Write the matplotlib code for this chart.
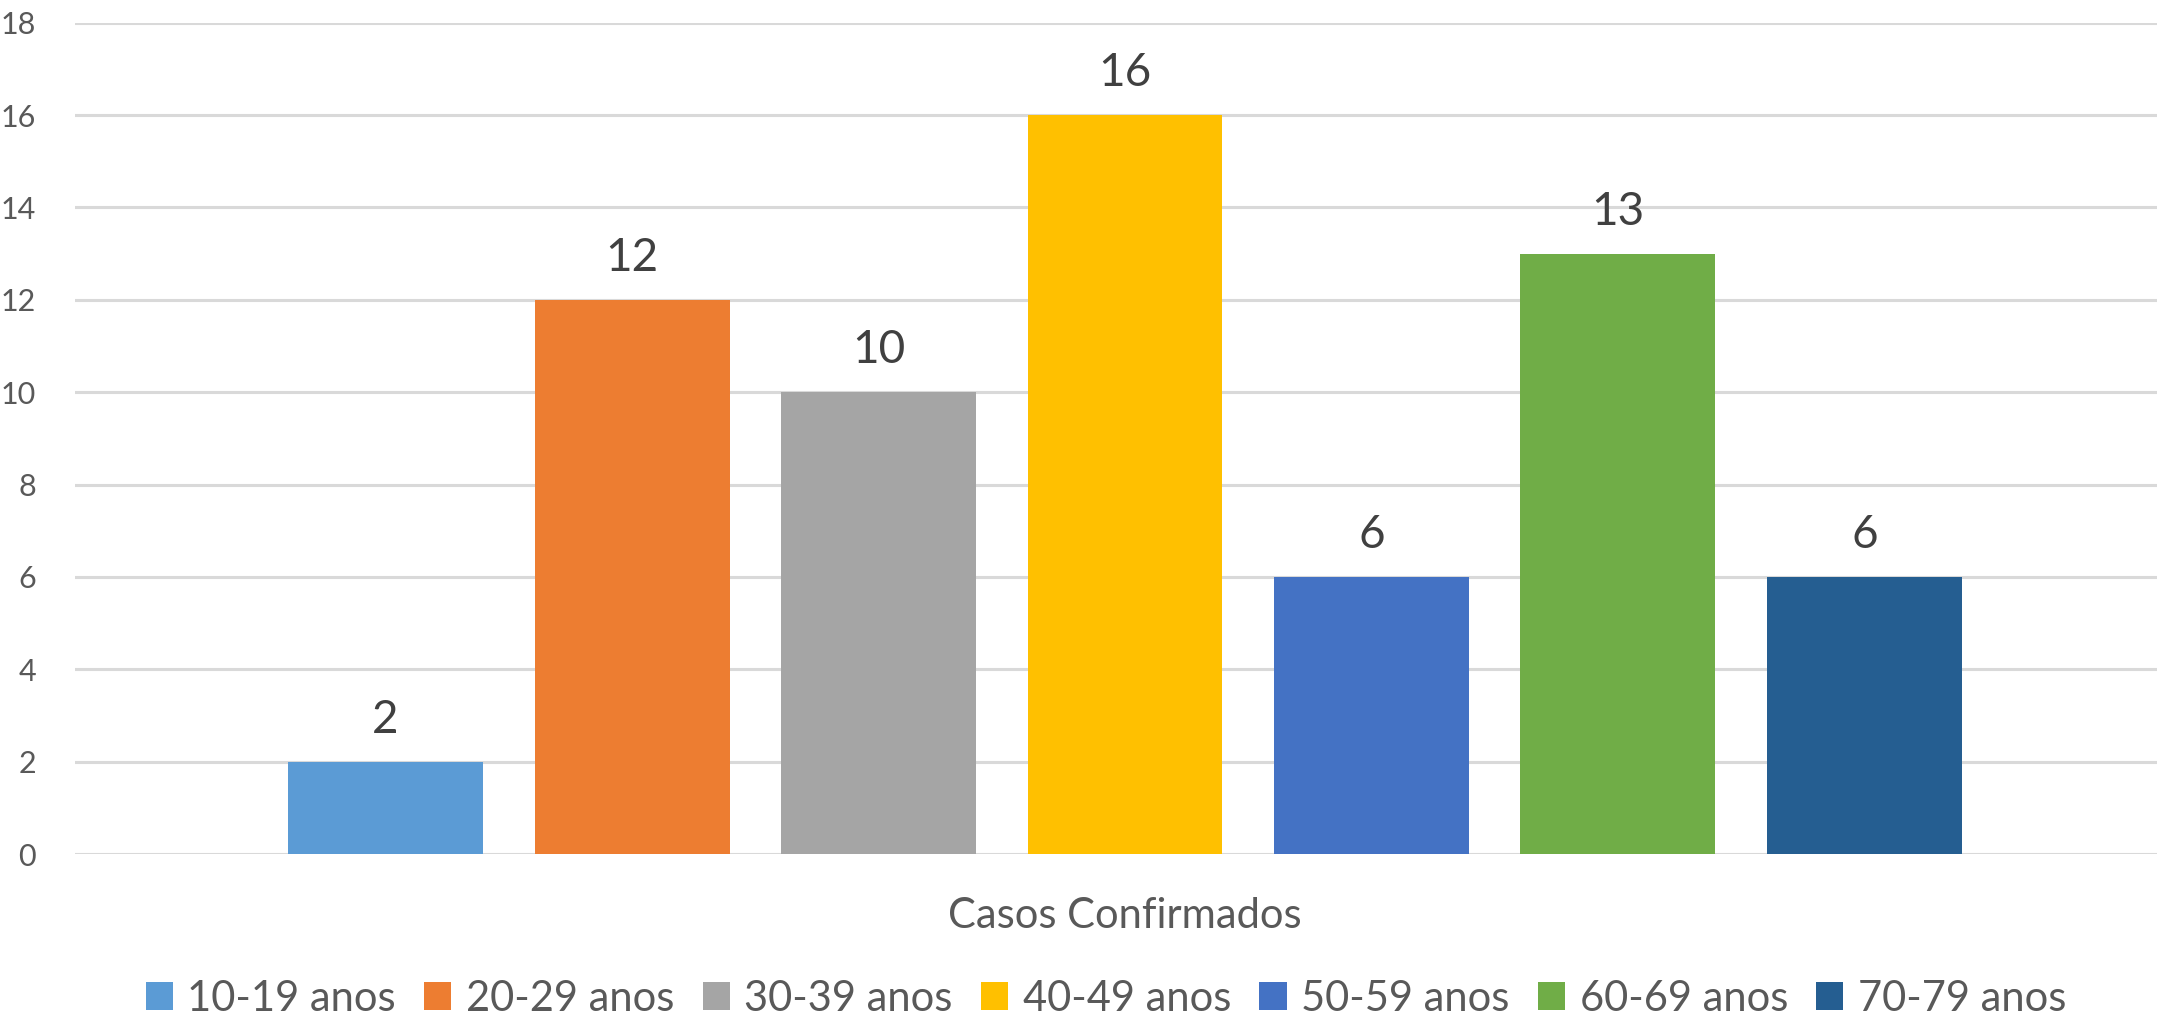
import matplotlib
matplotlib.use("Agg")
import matplotlib.pyplot as plt
from matplotlib.patches import Patch
import numpy as np

plt.rcParams['font.family'] = ['Lato', 'DejaVu Sans']

series_names = ["10-19 anos", "20-29 anos", "30-39 anos", "40-49 anos",
                "50-59 anos", "60-69 anos", "70-79 anos"]
values = [2, 12, 10, 16, 6, 13, 6]
colors = ["#5B9BD5", "#ED7D31", "#A5A5A5", "#FFC000", "#4472C4", "#70AD47", "#255E91"]
category = "Casos Confirmados"
yticks = [0, 2, 4, 6, 8, 10, 12, 14, 16, 18]

W, H = 2157, 1017
fig = plt.figure(figsize=(W / 100, H / 100), dpi=100)
ax = fig.add_axes([75 / W, 1 - 854 / H, (W - 75) / W, (854 - 22.7) / H])

x = np.arange(len(values))
bars = ax.bar(x, values, width=0.791, color=colors, zorder=3)

ax.set_ylim(0, 18)
ax.set_xlim(-1.26, len(values) - 1 + 1.187)
ax.set_yticks(yticks)
ax.yaxis.grid(True, color="#D9D9D9", linewidth=2.2, zorder=0)
ax.set_axisbelow(True)
for s in ["top", "right", "left", "bottom"]:
    ax.spines[s].set_visible(False)
ax.tick_params(axis="y", length=0, pad=28, labelsize=22, labelcolor="#595959")
ax.set_xticks([(len(values) - 1) / 2])
ax.set_xticklabels([category])
ax.tick_params(axis="x", length=0, pad=31, labelsize=30, labelcolor="#595959")

for b, v in zip(bars, values):
    ax.annotate(str(v), (b.get_x() + b.get_width() / 2, v), xytext=(0, 15),
                textcoords="offset points", ha="center", va="bottom",
                fontsize=33, color="#404040")

handles = [Patch(facecolor=c, edgecolor="none", label=n) for c, n in zip(colors, series_names)]
fig.legend(handles=handles, loc="lower center", bbox_to_anchor=(1106 / W, -0.017), ncol=7,
           frameon=False, fontsize=30, labelcolor="#595959",
           handlelength=0.65, handleheight=0.65, handletextpad=0.35, columnspacing=0.68,
           borderaxespad=0.0)

fig.savefig("out.png", dpi=100, facecolor="white")
